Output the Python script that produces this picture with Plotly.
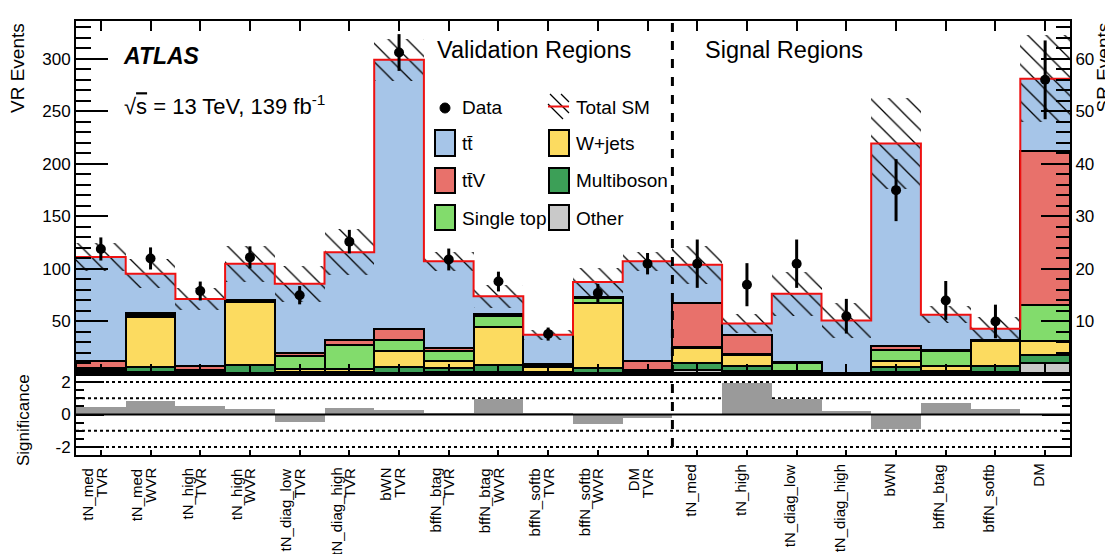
import numpy as np
import plotly.graph_objects as go

# ---------------- data ----------------
vr_labels = [["tN_med", "TVR"], ["tN_med", "WVR"], ["tN_high", "TVR"], ["tN_high", "WVR"],
             ["tN_diag_low", "TVR"], ["tN_diag_high", "TVR"], ["bWN", "TVR"], ["bffN_btag", "TVR"],
             ["bffN_btag", "WVR"], ["bffN_softb", "TVR"], ["bffN_softb", "WVR"], ["DM", "TVR"]]
sr_labels = ["tN_med", "tN_high", "tN_diag_low", "tN_diag_high", "bWN", "bffN_btag", "bffN_softb", "DM"]

# Validation regions (VR Events)
vr_other = [0.5, 1.5, 0.5, 0.5, 0.5, 0.5, 1.0, 1.5, 1.5, 0.5, 0.5, 0.5]
vr_multiboson = [2.0, 5.2, 2.0, 8.4, 1.0, 1.0, 5.4, 4.2, 7.4, 1.5, 5.2, 2.0]
vr_wjets = [1.0, 47.6, 0.8, 59.7, 3.0, 3.0, 15.2, 6.4, 35.6, 4.5, 61.9, 1.0]
vr_singletop = [2.5, 1.7, 0.8, 1.0, 13.0, 23.4, 10.5, 9.5, 10.4, 1.5, 4.8, 0.6]
vr_ttv = [6.7, 2.4, 3.2, 1.1, 2.5, 4.2, 10.7, 3.2, 2.2, 1.8, 0.5, 8.0]
vr_ttbar = [98.7, 37.1, 64.1, 34.3, 66.0, 83.8, 256.4, 82.5, 16.9, 27.6, 14.7, 95.2]
vr_sm_unc = [13.5, 14.0, 10.5, 17.0, 17.0, 22.0, 20.0, 9.0, 11.0, 4.7, 13.0, 9.0]
vr_data = [119, 110, 79, 111, 75, 126, 306, 109, 88, 38, 77, 105]
vr_data_err = [11.0, 10.5, 9.0, 10.5, 8.7, 11.2, 17.5, 10.4, 9.4, 6.2, 8.8, 10.2]
vr_signif = [0.47, 0.86, 0.55, 0.35, -0.45, 0.41, 0.29, 0.10, 0.98, 0.10, -0.61, -0.20]

# Signal regions (SR Events)
sr_other = [0.8, 0.6, 0.2, 0.05, 0.4, 0.2, 0.4, 2.1]
sr_multiboson = [1.3, 0.9, 0.2, 0.05, 0.9, 0.4, 1.1, 1.5]
sr_wjets = [2.9, 2.2, 0.2, 0.05, 1.2, 0.9, 4.8, 2.6]
sr_singletop = [0.1, 0.05, 1.4, 0.05, 2.0, 2.8, 0.2, 7.0]
sr_ttv = [8.4, 3.75, 0.3, 0.05, 0.9, 0.2, 0.05, 29.3]
sr_ttbar = [7.3, 2.1, 13.0, 9.95, 38.5, 6.8, 2.05, 13.7]
sr_sm_unc = [3.6, 1.8, 4.2, 3.4, 8.6, 1.6, 2.2, 8.3]
sr_data = [21, 17, 21, 11, 35, 14, 10, 56]
sr_data_err = [4.6, 4.1, 4.6, 3.3, 5.9, 3.7, 3.2, 7.5]
sr_signif = [0.03, 1.94, 0.96, 0.20, -0.92, 0.72, 0.35, -0.02]

processes = ["Other", "Multiboson", "W+jets", "Single top", "ttV", "ttbar"]
colors = {"ttbar": "#a6c5e8", "ttV": "#e8716b", "W+jets": "#fcdb60",
          "Multiboson": "#3c9f57", "Single top": "#82dc6c", "Other": "#c9c9c9"}

FONT = "Liberation Sans, Arial, Helvetica, sans-serif"

# ---------------- geometry helpers (layout only) ----------------
L, R, T, B = 68, 1062, 13, 447
W, H = R - L, B - T
split = 366
main_bottom = (B - split) / H


def px(x):
    return (x - L) / W


def py(y):
    return (B - y) / H


fig = go.Figure()


def add_stack(xpos, comps, yaxis):
    names = processes
    arr = np.array(comps, dtype=float)
    cum = np.vstack([np.zeros(arr.shape[1]), np.cumsum(arr, axis=0)[:-1]])
    order = [5, 4, 3, 2, 1, 0]
    for i in order:
        fig.add_trace(go.Bar(
            x=xpos, y=arr[i], base=cum[i], width=1.0, xaxis="x", yaxis=yaxis,
            marker=dict(color=colors[names[i]],
                        line=dict(color="black", width=0 if names[i] == "ttbar" else 2)),
            showlegend=False, hoverinfo="skip"))
    return arr.sum(axis=0)


vr_x = np.arange(len(vr_labels))
sr_x = np.arange(len(sr_labels)) + len(vr_labels)

vr_total = add_stack(vr_x, [vr_other, vr_multiboson, vr_wjets, vr_singletop, vr_ttv, vr_ttbar], "y")
sr_total = add_stack(sr_x, [sr_other, sr_multiboson, sr_wjets, sr_singletop, sr_ttv, sr_ttbar], "y2")

# hatched uncertainty bands
for xpos, tot, unc, ya in [(vr_x, vr_total, vr_sm_unc, "y"), (sr_x, sr_total, sr_sm_unc, "y2")]:
    unc = np.array(unc)
    fig.add_trace(go.Bar(
        x=xpos, y=2 * unc, base=tot - unc, width=1.0, xaxis="x", yaxis=ya,
        marker=dict(color="rgba(0,0,0,0)", line=dict(width=0),
                    pattern=dict(shape="\\", fgcolor="black", bgcolor="rgba(0,0,0,0)",
                                 fgopacity=1, size=13, solidity=0.1)),
        showlegend=False, hoverinfo="skip"))

# total SM step lines
for xpos, tot, ya in [(vr_x, vr_total, "y"), (sr_x, sr_total, "y2")]:
    edges = np.append(xpos - 0.5, xpos[-1] + 0.5)
    fig.add_trace(go.Scatter(
        x=edges, y=np.append(tot, tot[-1]), mode="lines", line_shape="hv",
        line=dict(color="#ee1111", width=2), xaxis="x", yaxis=ya,
        showlegend=False, hoverinfo="skip"))

# data points
for xpos, d, e, ya in [(vr_x, vr_data, vr_data_err, "y"), (sr_x, sr_data, sr_data_err, "y2")]:
    fig.add_trace(go.Scatter(
        x=xpos, y=d, mode="markers", xaxis="x", yaxis=ya,
        marker=dict(color="black", size=10),
        error_y=dict(type="data", array=e, color="black", thickness=3, width=0),
        showlegend=False, hoverinfo="skip"))

# significance
all_x = np.concatenate([vr_x, sr_x])
fig.add_trace(go.Bar(
    x=all_x, y=vr_signif + sr_signif, width=1.0, xaxis="x2", yaxis="y3",
    marker=dict(color="#9a9a9a", line=dict(width=0)), showlegend=False, hoverinfo="skip"))

n_bins = len(all_x)
xr = [-0.5, n_bins - 0.5]

axis_common = dict(showgrid=False, zeroline=False, showline=True, linecolor="black",
                   linewidth=2, tickcolor="black", tickfont=dict(family=FONT, size=17, color="black"))
axis_nofont = {k: v for k, v in axis_common.items() if k != "tickfont"}

fig.update_layout(
    width=1113, height=554,
    margin=dict(l=L, r=1113 - R, t=T, b=554 - B),
    paper_bgcolor="white", plot_bgcolor="white",
    barmode="overlay", bargap=0,
    font=dict(family=FONT, color="black"),
    xaxis=dict(domain=[0, 1], anchor="y", range=xr, tickmode="array", tickvals=list(all_x),
               ticks="inside", ticklen=10, tickwidth=1.5, mirror="ticks", showticklabels=False,
               **axis_nofont),
    yaxis=dict(domain=[main_bottom, 1], anchor="x", range=[0, 336],
               tickmode="array", tickvals=[50, 100, 150, 200, 250, 300],
               ticks="inside", ticklen=32, tickwidth=2,
               minor=dict(tickmode="linear", tick0=0, dtick=10, ticks="inside", ticklen=15,
                          tickwidth=2, tickcolor="black"),
               **axis_common),
    yaxis2=dict(overlaying="y", side="right", anchor="x", range=[0, 67.2],
                tickmode="array", tickvals=[10, 20, 30, 40, 50, 60],
                ticks="inside", ticklen=29, tickwidth=2,
                minor=dict(tickmode="linear", tick0=0, dtick=2, ticks="inside", ticklen=14,
                           tickwidth=2, tickcolor="black"),
                **axis_common),
    xaxis2=dict(domain=[0, 1], anchor="y3", range=xr, tickmode="array", tickvals=list(all_x),
                ticks="inside", ticklen=5, tickwidth=1.5, mirror=True, showticklabels=False,
                **axis_nofont),
    yaxis3=dict(domain=[0, main_bottom], anchor="x2", range=[-2.5, 2.5],
                tickmode="array", tickvals=[-2, 0, 2], ticktext=["-2", "0", "2"],
                ticks="inside", ticklen=28, tickwidth=2, mirror="ticks",
                minor=dict(tickmode="linear", tick0=0, dtick=0.5, ticks="inside", ticklen=8,
                           tickwidth=2, tickcolor="black"),
                **axis_common),
)

shapes = []
for yv in [-2, -1, 1, 2]:
    shapes.append(dict(type="line", xref="x2", yref="y3", x0=xr[0], x1=xr[1], y0=yv, y1=yv,
                       line=dict(color="black", width=2, dash="dot"), layer="below"))
shapes.append(dict(type="line", xref="x2", yref="y3", x0=xr[0], x1=xr[1], y0=0, y1=0,
                   line=dict(color="black", width=2), layer="above"))
sep = len(vr_labels) - 0.5
shapes.append(dict(type="line", xref="x", yref="y domain", x0=sep, x1=sep, y0=0, y1=1,
                   line=dict(color="black", width=3, dash="dash")))
shapes.append(dict(type="line", xref="x2", yref="y3", x0=sep, x1=sep, y0=-2, y1=2,
                   line=dict(color="black", width=3, dash="dash")))


def box(x0, y0, x1, y1, fill):
    return dict(type="rect", xref="paper", yref="paper", x0=px(x0), x1=px(x1), y0=py(y1), y1=py(y0),
                fillcolor=fill, line=dict(color="black", width=2))


leg_boxes = [(427, 122, 447, 148, "ttbar"), (541, 122, 561, 148, "W+jets"),
             (427, 160, 447, 185, "ttV"), (541, 160, 561, 185, "Multiboson"),
             (427, 197, 447, 222, "Single top"), (541, 197, 561, 222, "Other")]
for x0, y0, x1, y1, p in leg_boxes:
    shapes.append(box(x0, y0, x1, y1, colors[p]))
shapes.append(dict(type="circle", xref="paper", yref="paper", x0=px(432), x1=px(442),
                   y0=py(105), y1=py(95), fillcolor="black", line=dict(color="black", width=1)))
for (ax, ay, bx, by) in [(540, 96, 555, 111), (542, 86, 561, 105), (553, 86, 561, 94)]:
    shapes.append(dict(type="line", xref="paper", yref="paper", x0=px(ax), y0=py(ay),
                       x1=px(bx), y1=py(by), line=dict(color="black", width=1.2)))
shapes.append(dict(type="line", xref="paper", yref="paper", x0=px(540), x1=px(561),
                   y0=py(98.5), y1=py(98.5), line=dict(color="#ee1111", width=2)))

fig.update_layout(shapes=shapes)

ann = []


def text(x, y, s, size, xanchor="left", yanchor="middle", angle=0, xref="paper", xshift=0):
    ann.append(dict(x=x, y=y, xref=xref, yref="paper", text=s, showarrow=False,
                    xanchor=xanchor, yanchor=yanchor, textangle=angle, xshift=xshift,
                    font=dict(family=FONT, size=size, color="black")))


leg_text = [(452, 100, "Data"), (566, 100, "Total SM"),
            (452, 135, "tt\u0304"), (566, 135, "W+jets"),
            (452, 172, "tt\u0304V"), (566, 172, "Multiboson"),
            (452, 210, "Single top"), (566, 210, "Other")]
for x, y, s in leg_text:
    text(px(x), py(y), s, 19)

text(px(113), py(48), "<b><i>ATLAS</i></b>", 23)
text(px(114), py(97), "\u221a<span style='text-decoration:overline'>s</span> = 13 TeV, 139 fb<sup>-1</sup>", 22)
text(px(427), py(42), "Validation Regions", 23.5)
text(px(695), py(42), "Signal Regions", 23.5)

# axis titles (rotated; xshift compensates rotated-box offset)
text(px(19), 1.0, "VR Events", 19, xanchor="center", yanchor="top", angle=-90, xshift=-10)
text(px(1104.5), 1.0, "SR Events", 19, xanchor="center", yanchor="top", angle=-90, xshift=-10)
text(px(24), py(412), "Significance", 17, xanchor="center", yanchor="middle", angle=-90, xshift=-9)

# x labels
for i, (l1, l2) in enumerate(vr_labels):
    text(vr_x[i] - 0.135, py(458), l1, 15, xanchor="center", yanchor="top", angle=-90, xref="x2", xshift=-7)
    text(vr_x[i] + 0.135, py(458), l2, 15, xanchor="center", yanchor="top", angle=-90, xref="x2", xshift=-7)
for i, l in enumerate(sr_labels):
    text(sr_x[i], py(454), l, 15, xanchor="center", yanchor="top", angle=-90, xref="x2", xshift=-7)

fig.update_layout(annotations=ann)
fig.write_html("out.html")
